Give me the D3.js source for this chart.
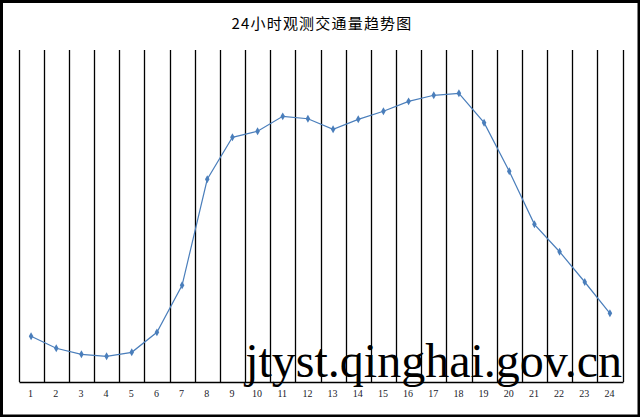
<!DOCTYPE html>
<html>
<head>
<meta charset="utf-8">
<script src="https://cdn.jsdelivr.net/npm/d3@7/dist/d3.min.js"></script>
<style>
  body { margin: 0; background: #fff; }
  svg { display: block; }
</style>
</head>
<body>
<div id="chart"></div>
<script>
// chart data
var title = "24小时观测交通量趋势图";
var hours = ["1","2","3","4","5","6","7","8","9","10","11","12",
             "13","14","15","16","17","18","19","20","21","22","23","24"];
var volumes = [688, 508, 417, 387, 447, 748, 1456, 3053, 3685, 3776, 4001, 3965,
               3806, 3956, 4077, 4227, 4318, 4348, 3905, 3173, 2375, 1962, 1506, 1035];
var watermark = "jtyst.qinghai.gov.cn";

var width = 640, height = 417;
// plot area (note: "top" is reserved on window, so use other names)
var plotLeft = 18.5, plotRight = 622.5, plotTop = 50, plotBottom = 382;

var svg = d3.select("#chart").append("svg")
  .attr("width", width)
  .attr("height", height);

// outer frame
svg.append("rect")
  .attr("x", 1.5).attr("y", 1.5)
  .attr("width", width - 2.5).attr("height", height - 2.5)
  .style("fill", "#fff")
  .style("stroke", "#000")
  .style("stroke-width", 3);

// title
svg.append("text")
  .attr("x", 322).attr("y", 29)
  .attr("text-anchor", "middle")
  .style("font-family", "'Noto Sans CJK SC', sans-serif")
  .style("font-size", "15px")
  .style("letter-spacing", "1.2px")
  .text(title);

// scales
var x = d3.scaleBand()
  .domain(hours)
  .range([plotLeft, plotRight])
  .padding(0);

var y = d3.scaleLinear()
  .domain([0, 5000])
  .range([plotBottom, plotTop]);

// vertical separators at category edges
var edges = hours.map(function(h) { return x(h); }).concat([plotRight]);
svg.selectAll(".sep")
  .data(edges)
  .enter()
  .append("line")
    .attr("class", "sep")
    .attr("x1", function(d) { return Math.round(d) + 0.5; })
    .attr("x2", function(d) { return Math.round(d) + 0.5; })
    .attr("y1", plotTop)
    .attr("y2", plotBottom)
    .style("stroke", "#000")
    .style("stroke-width", 1.3);

// x axis line
svg.append("line")
  .attr("x1", Math.round(plotLeft) + 0.5).attr("x2", Math.round(plotRight) + 0.5)
  .attr("y1", plotBottom + 0.5).attr("y2", plotBottom + 0.5)
  .style("stroke", "#000")
  .style("stroke-width", 1.3);

// x tick labels
svg.selectAll(".xlab")
  .data(hours)
  .enter()
  .append("text")
    .attr("class", "xlab")
    .attr("x", function(d) { return x(d) + x.bandwidth() / 2 - 0.5; })
    .attr("y", 397)
    .attr("text-anchor", "middle")
    .style("font-family", "'Liberation Serif', serif")
    .style("font-size", "10px")
    .style("fill", "#1a1a2a")
    .text(function(d) { return d; });

// line
var line = d3.line()
  .x(function(d, i) { return x(hours[i]) + x.bandwidth() / 2; })
  .y(function(d) { return y(d); });

svg.append("path")
  .datum(volumes)
  .attr("d", line)
  .style("fill", "none")
  .style("stroke", "#4a7ebb")
  .style("stroke-width", 1.2);

// diamond markers
svg.selectAll(".pt")
  .data(volumes)
  .enter()
  .append("path")
    .attr("class", "pt")
    .attr("transform", function(d, i) {
      return "translate(" + (x(hours[i]) + x.bandwidth() / 2) + "," + y(d) + ")";
    })
    .attr("d", d3.symbol().type(d3.symbolDiamond).size(18))
    .style("fill", "#4a7ebb");

// watermark
svg.append("text")
  .attr("x", 622).attr("y", 377)
  .attr("text-anchor", "end")
  .style("font-family", "'Liberation Serif', serif")
  .style("font-size", "48px")
  .style("fill", "#000")
  .text(watermark);
</script>
</body>
</html>
